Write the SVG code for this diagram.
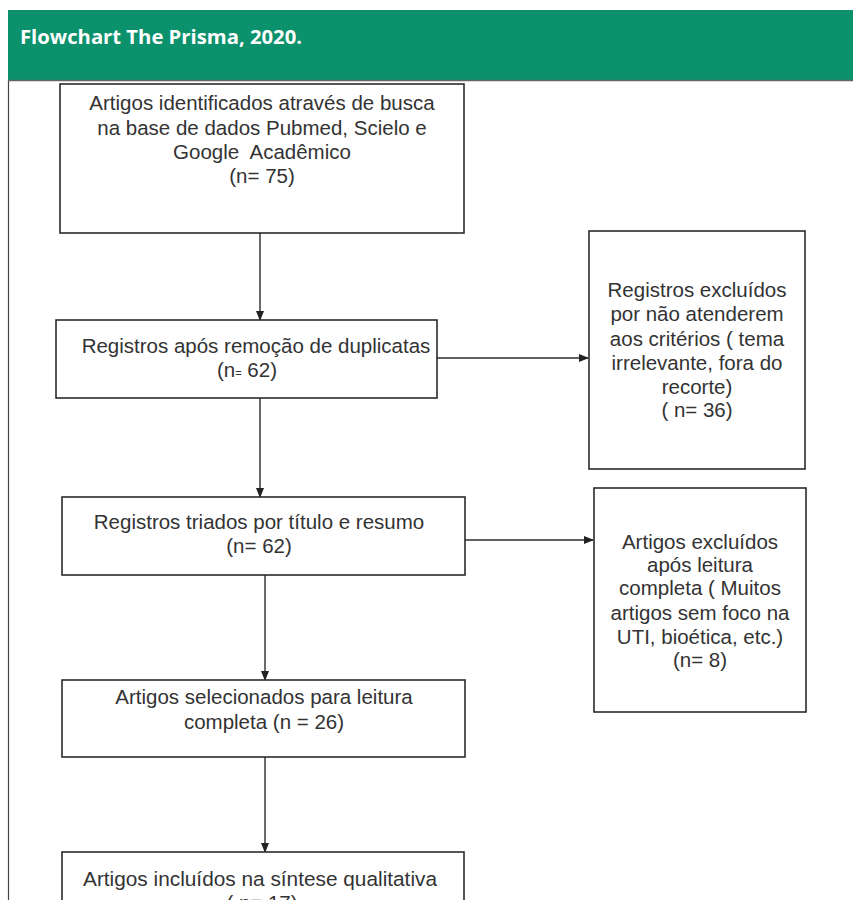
<svg xmlns="http://www.w3.org/2000/svg" width="853" height="900" viewBox="0 0 853 900">
<defs>
<style>
.box{fill:#fff;stroke:#2b2b2b;stroke-width:1.6}
.t{font-family:"Liberation Sans",Arial,sans-serif;font-size:20.5px;fill:#333;text-anchor:middle}
.c{stroke:#2b2b2b;stroke-width:1.4;fill:none;marker-end:url(#ah)}
</style>
<marker id="ah" markerWidth="10" markerHeight="8" refX="9" refY="4" orient="auto" markerUnits="userSpaceOnUse">
<path d="M0,0 L10,4 L0,8 Z" fill="#222"/>
</marker>
</defs>
<rect x="0" y="0" width="853" height="900" fill="#fff"/>
<g id="header">
<rect x="8" y="10" width="845" height="70" fill="#0b916b"/>
<line x1="8" y1="80.5" x2="853" y2="80.5" stroke="#666" stroke-width="1.5"/>
<text x="20" y="44" font-family="'Open Sans','Noto Sans',sans-serif" font-weight="bold" font-size="19" fill="#fff" textLength="282" lengthAdjust="spacingAndGlyphs">Flowchart The Prisma, 2020.</text>
</g>
<line x1="8.5" y1="81" x2="8.5" y2="900" stroke="#444" stroke-width="1.2"/>
<g id="connectors">
<line class="c" x1="260" y1="233" x2="260" y2="320"/>
<line class="c" x1="437" y1="358" x2="588" y2="358"/>
<line class="c" x1="260" y1="398" x2="260" y2="497"/>
<line class="c" x1="465" y1="540" x2="593" y2="540"/>
<line class="c" x1="265" y1="575" x2="265" y2="680"/>
<line class="c" x1="265" y1="757" x2="265" y2="852"/>
</g>
<g id="n1">
<rect class="box" x="60" y="84" width="404" height="149"/>
<text class="t" x="262" y="110">Artigos identificados através de busca</text>
<text class="t" x="262" y="135">na base de dados Pubmed, Scielo e</text>
<text class="t" x="262" y="159" xml:space="preserve">Google  Acadêmico</text>
<text class="t" x="262" y="183">(n= 75)</text>
</g>
<g id="n2">
<rect class="box" x="56" y="320" width="381" height="78"/>
<text class="t" x="256" y="353">Registros após remoção de duplicatas</text>
<text class="t" x="247" y="377">(n<tspan font-size="11">=</tspan> 62)</text>
</g>
<g id="n3">
<rect class="box" x="589" y="231" width="216" height="238"/>
<text class="t" x="697" y="297">Registros excluídos</text>
<text class="t" x="697" y="321">por não atenderem</text>
<text class="t" x="697" y="346">aos critérios ( tema</text>
<text class="t" x="697" y="370">irrelevante, fora do</text>
<text class="t" x="697" y="394">recorte)</text>
<text class="t" x="697" y="417">( n= 36)</text>
</g>
<g id="n4">
<rect class="box" x="62" y="497" width="403" height="78"/>
<text class="t" x="259" y="529">Registros triados por título e resumo</text>
<text class="t" x="259" y="553">(n= 62)</text>
</g>
<g id="n5">
<rect class="box" x="594" y="488" width="212" height="224"/>
<text class="t" x="700" y="549">Artigos excluídos</text>
<text class="t" x="700" y="572">após leitura</text>
<text class="t" x="700" y="595">completa ( Muitos</text>
<text class="t" x="700" y="620">artigos sem foco na</text>
<text class="t" x="700" y="644">UTI, bioética, etc.)</text>
<text class="t" x="700" y="667">(n= 8)</text>
</g>
<g id="n6">
<rect class="box" x="62" y="680" width="403" height="77"/>
<text class="t" x="264" y="704">Artigos selecionados para leitura</text>
<text class="t" x="264" y="729">completa (n = 26)</text>
</g>
<g id="n7">
<rect class="box" x="62" y="852" width="402" height="60"/>
<text class="t" x="260" y="886" textLength="354" lengthAdjust="spacingAndGlyphs">Artigos incluídos na síntese qualitativa</text>
<text class="t" x="262" y="910">( n= 17)</text>
</g>
</svg>
